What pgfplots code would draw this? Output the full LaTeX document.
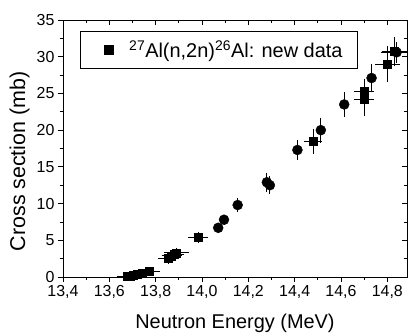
\documentclass[border=0pt]{standalone}
\usepackage{fontspec}
\setmainfont{Liberation Sans}
\usepackage{pgfplots}
\pgfplotsset{compat=1.18}
\begin{document}
\begin{tikzpicture}
\pgfplotsset{
  common/.style={
    scale only axis, width=344bp, height=257bp,
    xmin=13.4, xmax=14.885, ymin=0, ymax=35,
    xtick={13.4,13.6,13.8,14.0,14.2,14.4,14.6,14.8},
    ytick={0,5,10,15,20,25,30,35},
    minor x tick num=1, minor y tick num=1,
    axis line style={line width=0.9bp},
    every tick/.style={black, line width=0.8bp},
    major tick length=5bp, minor tick length=3bp,
  }
}
\begin{axis}[common,
  tick align=outside, xtick pos=bottom, ytick pos=left,
  ticklabel style={font=\fontsize{16}{18}\selectfont},
  xticklabel style={/pgf/number format/.cd, fixed, fixed zerofill, precision=1, use comma, assume math mode=true},
  yticklabel style={/pgf/number format/.cd, fixed, precision=0, assume math mode=true},
  xlabel={Neutron Energy (MeV)}, ylabel={Cross section (mb)},
  xlabel style={font=\fontsize{20}{24}\selectfont, at={(axis description cs:0.5,-0.2)}, anchor=base},
  ylabel style={font=\fontsize{21.5}{24}\selectfont, at={(axis description cs:-0.11,0.45)}, anchor=base},
  legend style={at={(0.049,0.957)}, anchor=north west, draw=black, line width=0.8bp,
    font=\fontsize{20}{24}\selectfont, inner xsep=13bp, inner ysep=7bp},
  legend cell align=left,
]
\addlegendimage{legend image code/.code={\path[draw=none, fill=none] (0,-1bp) rectangle (34bp,1bp);
    \node[draw=black, fill=black, line width=0.4bp, minimum size=9bp, inner sep=0pt] at (11bp,0bp) {};}}
\addlegendentry{\textsuperscript{27}Al(n,2n)\textsuperscript{26}Al: new data}
\addplot[forget plot, only marks, mark=square*, mark size=4bp, mark options={fill=black, draw=black},
  error bars/.cd, x dir=both, x explicit, y dir=both, y explicit,
  error bar style={line width=0.8bp, black},
  error mark options={black, mark size=3bp, line width=0.8bp}]
  table[x=x, y=y, x error=ex, y error=ey] {
x y ex ey
13.675 0.10 0.03 0.10
13.69 0.15 0.03 0.10
13.705 0.25 0.03 0.10
13.72 0.35 0.03 0.10
13.74 0.50 0.03 0.15
13.77 0.75 0.035 0.20
13.854 2.50 0.03 0.30
13.869 2.90 0.03 0.30
13.878 3.10 0.03 0.30
13.89 3.30 0.04 0.30
13.984 5.40 0.03 0.30
14.48 18.5 0.025 1.30
14.70 24.2 0.03 1.80
14.70 25.3 0.03 1.30
14.80 29.0 0.04 2.00
14.83 30.7 0.04 1.60
};
\addplot[forget plot, only marks, mark=*, mark size=5bp, mark options={fill=black, draw=black},
  error bars/.cd, x dir=both, x explicit, y dir=both, y explicit,
  error bar style={line width=0.8bp, black},
  error mark options={black, mark size=3bp, line width=0.8bp}]
  table[x=x, y=y, x error=ex, y error=ey] {
x y ex ey
14.07 6.7 0.005 0.3
14.095 7.8 0.005 0.3
14.154 9.8 0.005 0.5
14.28 12.9 0.005 0.9
14.293 12.5 0.005 0.8
14.412 17.3 0.005 0.9
14.513 20.0 0.005 1.3
14.614 23.5 0.005 1.3
14.732 27.1 0.005 1.5
14.84 30.6 0.055 1.0
};
\end{axis}
\begin{axis}[common, tick align=inside, xtick pos=top, ytick pos=right,
  xticklabels={}, yticklabels={}]
\end{axis}
\pgfresetboundingbox
\path (-63bp,-56bp) rectangle (346bp,277bp);
\end{tikzpicture}
\end{document}
